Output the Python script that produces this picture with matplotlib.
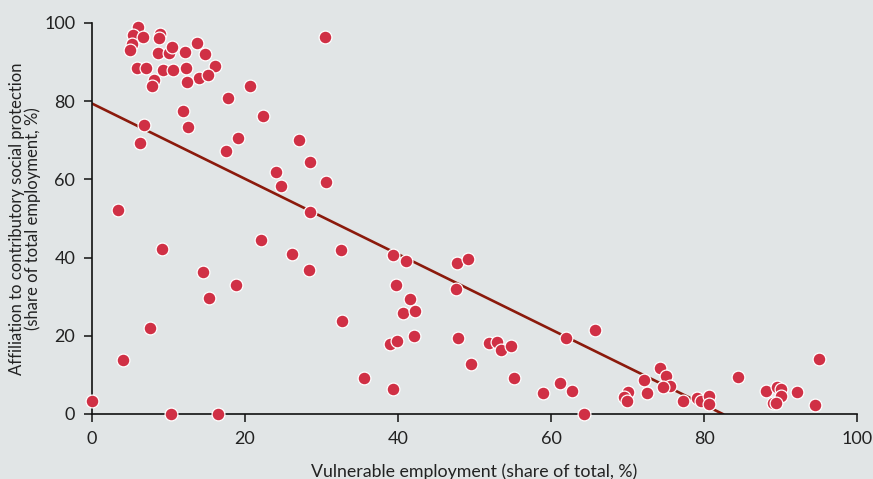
import numpy as np
import matplotlib
matplotlib.use("Agg")
from matplotlib import pyplot as plt

# vulnerable employment (% of total) vs affiliation to contributory social protection (%)
vulnerable = [
    6.0, 5.4, 6.6, 5.2, 5.0, 8.9, 8.7, 8.6, 10.0, 10.5, 12.1, 13.7, 14.8,
    5.9, 7.0, 9.3, 10.6, 12.3, 16.1, 14.0, 15.1, 12.4, 8.1, 7.9, 20.6,
    17.8, 11.9, 12.6, 6.8, 6.3, 22.4, 19.1, 17.5, 27.0, 24.1, 24.7, 3.4,
    22.1, 30.5, 28.5, 30.6, 28.5, 9.2, 14.5, 15.3, 18.8, 7.6, 4.0, 0.0,
    10.3, 16.5, 26.1, 28.4, 32.6, 32.7, 35.5, 39.4, 41.0, 39.7, 41.6,
    40.7, 42.2, 38.9, 39.9, 42.1, 39.4, 47.7, 49.2, 47.6, 47.8, 49.6,
    51.9, 52.9, 53.5, 54.8, 55.2, 59.0, 61.2, 62.8, 62.0, 64.3, 65.8,
    74.2, 75.0, 72.2, 75.6, 74.7, 72.5, 70.0, 69.6, 69.9, 77.3, 79.1,
    79.6, 80.7, 80.6, 84.4, 88.1, 89.5, 90.1, 90.1, 89.0, 89.4, 92.2,
    94.5, 95.0,
]
affiliation = [
    99.0, 97.0, 96.4, 94.5, 93.1, 97.3, 96.1, 92.3, 92.3, 93.9, 92.5, 95.0, 92.0,
    88.4, 88.4, 87.9, 88.0, 88.4, 88.9, 86.0, 86.8, 84.9, 85.3, 83.9, 84.0,
    80.8, 77.5, 73.3, 74.0, 69.4, 76.3, 70.5, 67.2, 70.1, 61.9, 58.3, 52.3,
    44.6, 96.3, 64.5, 59.3, 51.6, 42.1, 36.2, 29.7, 33.1, 22.0, 13.8, 3.3,
    0.1, 0.1, 41.0, 36.9, 42.0, 23.8, 9.2, 40.6, 39.1, 33.1, 29.4,
    25.8, 26.3, 17.9, 18.6, 19.9, 6.5, 38.7, 39.7, 32.0, 19.4, 12.7,
    18.2, 18.4, 16.3, 17.5, 9.1, 5.3, 7.9, 6.0, 19.5, 0.1, 21.5,
    11.8, 9.7, 8.8, 7.2, 6.8, 5.4, 5.7, 4.3, 3.3, 3.2, 4.0,
    3.3, 4.6, 2.6, 9.5, 5.8, 7.0, 6.4, 4.7, 2.8, 2.7, 5.6,
    2.4, 14.1,
]

# fitted trend line
fit_intercept = 79.4
fit_slope = -0.963

bg = "#e1e5e6"
dot_color = "#d03045"
line_color = "#8b1a0c"

plt.rcParams['font.family'] = ['Lato', 'DejaVu Sans']

fig = plt.figure(figsize=(8.73, 4.79), dpi=100, facecolor=bg)
ax = fig.add_axes([0.1054, 0.1357, 0.8763, 0.8163])
ax.set_facecolor(bg)

x_end = -fit_intercept / fit_slope
fx = np.array([0, x_end])
ax.plot(fx, fit_intercept + fit_slope * fx, color=line_color, lw=1.9, zorder=2)

ax.scatter(vulnerable, affiliation, s=85, color=dot_color, edgecolors="white",
           linewidths=0.9, zorder=3, clip_on=False)

ax.set_xlim(0, 100)
ax.set_ylim(0, 100)
ax.set_xticks(range(0, 101, 20))
ax.set_yticks(range(0, 101, 20))
for s in ['top', 'right']:
    ax.spines[s].set_visible(False)
for s in ['left', 'bottom']:
    ax.spines[s].set_linewidth(1.2)
    ax.spines[s].set_color("#111111")
ax.tick_params(length=6, width=1.1, color="#111111", labelsize=13,
               labelcolor="#222222", pad=6)

ax.set_xlabel("Vulnerable employment (share of total, %)", fontsize=12.8,
              color="#222222", labelpad=12)
ax.set_ylabel("Affiliation to contributory social protection\n(share of total employment, %)",
              fontsize=12, color="#222222", labelpad=2, linespacing=1.0)

fig.savefig("out.png", dpi=100, facecolor=bg)
